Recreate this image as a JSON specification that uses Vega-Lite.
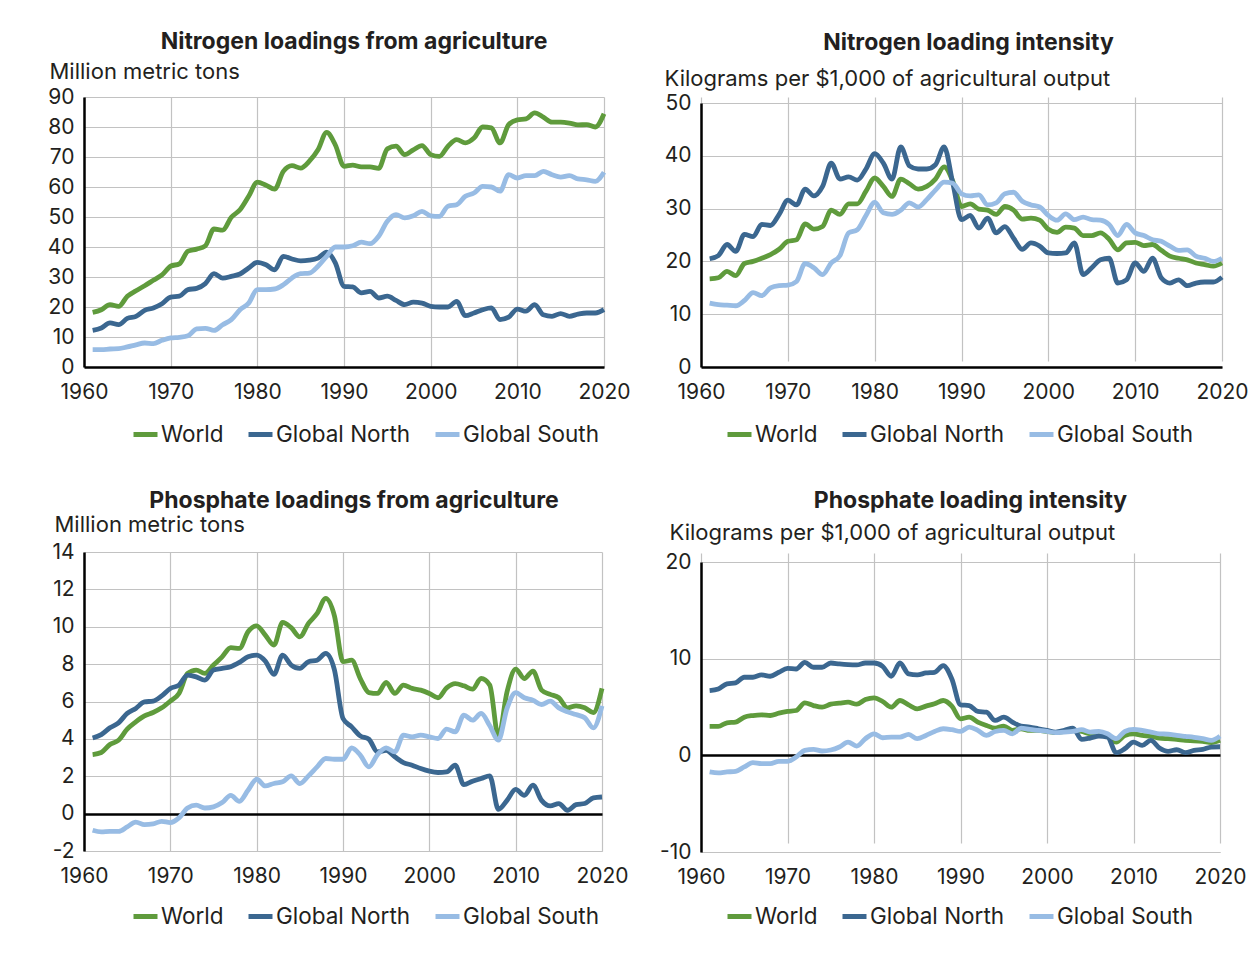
{
  "$schema": "https://vega.github.io/schema/vega-lite/v6.json",
  "background": "white",
  "padding": {"left": 47, "top": 31, "right": 0, "bottom": 0},
  "config": {
    "font": "Inter",
    "view": {"stroke": null},
    "title": {"font": "Inter", "fontSize": 23, "fontWeight": "bold", "color": "#231f20", "anchor": "middle", "frame": "group"},
    "axis": {"labelFont": "Inter", "labelFontSize": 21, "labelColor": "#231f20", "ticks": false, "grid": true, "gridColor": "#c2c2c2", "gridWidth": 1.2, "domainColor": "#000000", "domainWidth": 2.5, "titleFont": "Inter", "titleFontSize": 22, "titleFontWeight": "normal", "titleColor": "#231f20", "labelFlush": false, "labelOverlap": false},
    "axisY": {"titleAngle": 0, "titleAlign": "left", "titleBaseline": "alphabetic", "labelPadding": 10, "labelExpr": "replace(datum.label, '\u2212', '-')"},
    "axisX": {"labelPadding": 14},
    "legend": {"orient": "none", "direction": "horizontal", "labelFont": "Inter", "labelFontSize": 22.5, "labelColor": "#231f20", "symbolType": "stroke", "symbolStrokeWidth": 5, "symbolSize": 576, "labelOffset": 1, "columnPadding": 14}
  },
  "datasets": {
    "n1": [
      {"year":1961,"World":18.2,"Global North":12.2,"Global South":5.8},
      {"year":1962,"World":19.1,"Global North":13.0,"Global South":5.8},
      {"year":1963,"World":20.8,"Global North":14.7,"Global South":6.0},
      {"year":1964,"World":20.2,"Global North":14.1,"Global South":6.1},
      {"year":1965,"World":23.6,"Global North":16.2,"Global South":6.7},
      {"year":1966,"World":25.4,"Global North":16.9,"Global South":7.4},
      {"year":1967,"World":27.1,"Global North":18.9,"Global South":8.0},
      {"year":1968,"World":28.9,"Global North":19.7,"Global South":7.8},
      {"year":1969,"World":30.7,"Global North":21.1,"Global South":8.9},
      {"year":1970,"World":33.6,"Global North":23.3,"Global South":9.7},
      {"year":1971,"World":34.4,"Global North":23.6,"Global South":9.9},
      {"year":1972,"World":38.6,"Global North":25.8,"Global South":10.4},
      {"year":1973,"World":39.3,"Global North":26.2,"Global South":12.7},
      {"year":1974,"World":40.4,"Global North":27.8,"Global South":12.9},
      {"year":1975,"World":46.0,"Global North":31.1,"Global South":12.2},
      {"year":1976,"World":45.6,"Global North":29.6,"Global South":14.1},
      {"year":1977,"World":49.9,"Global North":30.2,"Global South":15.8},
      {"year":1978,"World":52.4,"Global North":31.0,"Global South":19.1},
      {"year":1979,"World":56.9,"Global North":33.0,"Global South":21.3},
      {"year":1980,"World":61.6,"Global North":34.9,"Global South":25.8},
      {"year":1981,"World":60.6,"Global North":34.1,"Global South":25.8},
      {"year":1982,"World":59.3,"Global North":32.4,"Global South":26.0},
      {"year":1983,"World":65.2,"Global North":36.9,"Global South":27.4},
      {"year":1984,"World":67.1,"Global North":36.0,"Global South":29.7},
      {"year":1985,"World":66.3,"Global North":35.4,"Global South":31.1},
      {"year":1986,"World":68.6,"Global North":35.6,"Global South":31.3},
      {"year":1987,"World":72.4,"Global North":36.3,"Global South":33.6},
      {"year":1988,"World":78.2,"Global North":38.3,"Global South":36.9},
      {"year":1989,"World":74.0,"Global North":34.7,"Global South":40.0},
      {"year":1990,"World":66.9,"Global North":26.9,"Global South":40.0},
      {"year":1991,"World":67.3,"Global North":26.7,"Global South":40.4},
      {"year":1992,"World":66.7,"Global North":24.7,"Global South":41.6},
      {"year":1993,"World":66.7,"Global North":25.2,"Global South":41.1},
      {"year":1994,"World":66.2,"Global North":23.0,"Global South":43.6},
      {"year":1995,"World":72.7,"Global North":23.6,"Global South":48.6},
      {"year":1996,"World":73.6,"Global North":22.2,"Global South":50.8},
      {"year":1997,"World":70.8,"Global North":20.8,"Global South":49.7},
      {"year":1998,"World":72.4,"Global North":21.6,"Global South":50.4},
      {"year":1999,"World":73.8,"Global North":21.3,"Global South":51.9},
      {"year":2000,"World":70.8,"Global North":20.2,"Global South":50.4},
      {"year":2001,"World":70.2,"Global North":20.0,"Global South":50.2},
      {"year":2002,"World":73.6,"Global North":20.0,"Global South":53.6},
      {"year":2003,"World":75.8,"Global North":21.9,"Global South":54.1},
      {"year":2004,"World":74.7,"Global North":17.1,"Global South":56.9},
      {"year":2005,"World":76.3,"Global North":18.0,"Global South":58.0},
      {"year":2006,"World":80.0,"Global North":19.1,"Global South":60.2},
      {"year":2007,"World":79.7,"Global North":19.7,"Global South":60.0},
      {"year":2008,"World":74.7,"Global North":15.8,"Global South":58.6},
      {"year":2009,"World":80.8,"Global North":16.6,"Global South":64.1},
      {"year":2010,"World":82.4,"Global North":19.3,"Global South":63.0},
      {"year":2011,"World":82.7,"Global North":18.6,"Global South":63.8},
      {"year":2012,"World":84.7,"Global North":20.8,"Global South":63.8},
      {"year":2013,"World":83.3,"Global North":17.4,"Global South":65.2},
      {"year":2014,"World":81.6,"Global North":16.9,"Global South":64.1},
      {"year":2015,"World":81.6,"Global North":17.8,"Global South":63.3},
      {"year":2016,"World":81.3,"Global North":16.9,"Global South":63.8},
      {"year":2017,"World":80.7,"Global North":17.6,"Global South":62.7},
      {"year":2018,"World":80.8,"Global North":18.0,"Global South":62.4},
      {"year":2019,"World":80.0,"Global North":18.0,"Global South":61.9},
      {"year":2020,"World":84.4,"Global North":19.1,"Global South":64.9}
    ],
    "n2": [
      {"year":1961,"World":16.7,"Global North":20.5,"Global South":12.1},
      {"year":1962,"World":16.9,"Global North":21.1,"Global South":11.8},
      {"year":1963,"World":18.1,"Global North":23.2,"Global South":11.7},
      {"year":1964,"World":17.3,"Global North":21.9,"Global South":11.6},
      {"year":1965,"World":19.6,"Global North":25.1,"Global South":12.6},
      {"year":1966,"World":20.0,"Global North":24.7,"Global South":14.1},
      {"year":1967,"World":20.6,"Global North":27.0,"Global South":13.5},
      {"year":1968,"World":21.3,"Global North":26.8,"Global South":15.0},
      {"year":1969,"World":22.3,"Global North":28.9,"Global South":15.4},
      {"year":1970,"World":23.8,"Global North":31.6,"Global South":15.5},
      {"year":1971,"World":24.1,"Global North":30.7,"Global South":16.2},
      {"year":1972,"World":27.1,"Global North":33.7,"Global South":19.6},
      {"year":1973,"World":26.1,"Global North":32.4,"Global South":18.8},
      {"year":1974,"World":26.6,"Global North":34.2,"Global South":17.5},
      {"year":1975,"World":29.7,"Global North":38.6,"Global South":19.7},
      {"year":1976,"World":28.9,"Global North":35.6,"Global South":21.1},
      {"year":1977,"World":30.9,"Global North":36.0,"Global South":25.4},
      {"year":1978,"World":30.9,"Global North":35.4,"Global South":26.0},
      {"year":1979,"World":33.3,"Global North":37.5,"Global South":28.7},
      {"year":1980,"World":35.8,"Global North":40.4,"Global South":31.2},
      {"year":1981,"World":34.2,"Global North":38.6,"Global South":29.2},
      {"year":1982,"World":32.3,"Global North":35.6,"Global South":28.9},
      {"year":1983,"World":35.6,"Global North":41.7,"Global South":29.7},
      {"year":1984,"World":34.7,"Global North":38.1,"Global South":31.1},
      {"year":1985,"World":33.7,"Global North":37.5,"Global South":30.3},
      {"year":1986,"World":34.2,"Global North":37.5,"Global South":31.7},
      {"year":1987,"World":35.6,"Global North":38.3,"Global South":33.5},
      {"year":1988,"World":37.9,"Global North":41.7,"Global South":35.0},
      {"year":1989,"World":35.2,"Global North":34.8,"Global South":34.8},
      {"year":1990,"World":30.4,"Global North":27.9,"Global South":32.8},
      {"year":1991,"World":30.9,"Global North":28.7,"Global South":32.4},
      {"year":1992,"World":29.9,"Global North":26.3,"Global South":32.6},
      {"year":1993,"World":29.7,"Global North":28.2,"Global South":30.7},
      {"year":1994,"World":28.9,"Global North":25.4,"Global South":31.1},
      {"year":1995,"World":30.4,"Global North":26.6,"Global South":32.8},
      {"year":1996,"World":29.7,"Global North":24.4,"Global South":33.1},
      {"year":1997,"World":28.0,"Global North":22.3,"Global South":31.4},
      {"year":1998,"World":28.2,"Global North":23.5,"Global South":30.7},
      {"year":1999,"World":27.8,"Global North":22.9,"Global South":30.3},
      {"year":2000,"World":26.1,"Global North":21.6,"Global South":28.7},
      {"year":2001,"World":25.5,"Global North":21.5,"Global South":27.8},
      {"year":2002,"World":26.5,"Global North":21.6,"Global South":29.0},
      {"year":2003,"World":26.3,"Global North":23.5,"Global South":27.9},
      {"year":2004,"World":24.9,"Global North":17.5,"Global South":28.4},
      {"year":2005,"World":24.9,"Global North":18.8,"Global South":27.9},
      {"year":2006,"World":25.4,"Global North":20.3,"Global South":27.8},
      {"year":2007,"World":24.2,"Global North":20.6,"Global South":27.0},
      {"year":2008,"World":22.2,"Global North":15.9,"Global South":24.9},
      {"year":2009,"World":23.5,"Global North":16.5,"Global South":27.0},
      {"year":2010,"World":23.6,"Global North":19.7,"Global South":25.4},
      {"year":2011,"World":23.0,"Global North":18.1,"Global South":24.9},
      {"year":2012,"World":23.2,"Global North":20.6,"Global South":24.1},
      {"year":2013,"World":22.1,"Global North":16.9,"Global South":23.8},
      {"year":2014,"World":21.0,"Global North":15.9,"Global South":22.9},
      {"year":2015,"World":20.6,"Global North":16.5,"Global South":22.1},
      {"year":2016,"World":20.3,"Global North":15.4,"Global South":22.2},
      {"year":2017,"World":19.7,"Global North":15.9,"Global South":21.0},
      {"year":2018,"World":19.4,"Global North":16.1,"Global South":20.6},
      {"year":2019,"World":19.1,"Global North":16.1,"Global South":20.0},
      {"year":2020,"World":19.7,"Global North":17.0,"Global South":20.6}
    ],
    "p1": [
      {"year":1961,"World":3.16,"Global North":4.05,"Global South":-0.89},
      {"year":1962,"World":3.27,"Global North":4.23,"Global South":-0.98},
      {"year":1963,"World":3.70,"Global North":4.59,"Global South":-0.95},
      {"year":1964,"World":3.93,"Global North":4.86,"Global South":-0.95},
      {"year":1965,"World":4.52,"Global North":5.36,"Global South":-0.71},
      {"year":1966,"World":4.91,"Global North":5.63,"Global South":-0.45},
      {"year":1967,"World":5.23,"Global North":5.98,"Global South":-0.59},
      {"year":1968,"World":5.41,"Global North":6.02,"Global South":-0.55},
      {"year":1969,"World":5.66,"Global North":6.30,"Global South":-0.41},
      {"year":1970,"World":6.02,"Global North":6.70,"Global South":-0.48},
      {"year":1971,"World":6.43,"Global North":6.88,"Global South":-0.23},
      {"year":1972,"World":7.50,"Global North":7.41,"Global South":0.30},
      {"year":1973,"World":7.68,"Global North":7.32,"Global South":0.45},
      {"year":1974,"World":7.50,"Global North":7.14,"Global South":0.30},
      {"year":1975,"World":7.95,"Global North":7.68,"Global South":0.36},
      {"year":1976,"World":8.39,"Global North":7.77,"Global South":0.59},
      {"year":1977,"World":8.88,"Global North":7.86,"Global South":0.98},
      {"year":1978,"World":8.84,"Global North":8.09,"Global South":0.66},
      {"year":1979,"World":9.73,"Global North":8.39,"Global South":1.25},
      {"year":1980,"World":10.05,"Global North":8.48,"Global South":1.84},
      {"year":1981,"World":9.55,"Global North":8.16,"Global South":1.48},
      {"year":1982,"World":9.02,"Global North":7.45,"Global South":1.61},
      {"year":1983,"World":10.23,"Global North":8.48,"Global South":1.70},
      {"year":1984,"World":9.95,"Global North":7.95,"Global South":2.02},
      {"year":1985,"World":9.46,"Global North":7.77,"Global South":1.61},
      {"year":1986,"World":10.18,"Global North":8.13,"Global South":2.02},
      {"year":1987,"World":10.71,"Global North":8.21,"Global South":2.50},
      {"year":1988,"World":11.52,"Global North":8.57,"Global South":2.95},
      {"year":1989,"World":10.6,"Global North":7.7,"Global South":2.91},
      {"year":1990,"World":8.13,"Global North":5.09,"Global South":2.91},
      {"year":1991,"World":8.21,"Global North":4.64,"Global South":3.52},
      {"year":1992,"World":7.23,"Global North":4.16,"Global South":3.13},
      {"year":1993,"World":6.48,"Global North":3.98,"Global South":2.50},
      {"year":1994,"World":6.43,"Global North":3.30,"Global South":3.16},
      {"year":1995,"World":7.02,"Global North":3.39,"Global South":3.52},
      {"year":1996,"World":6.43,"Global North":3.04,"Global South":3.30},
      {"year":1997,"World":6.88,"Global North":2.73,"Global South":4.20},
      {"year":1998,"World":6.70,"Global North":2.59,"Global South":4.11},
      {"year":1999,"World":6.61,"Global North":2.41,"Global South":4.20},
      {"year":2000,"World":6.43,"Global North":2.27,"Global South":4.11},
      {"year":2001,"World":6.20,"Global North":2.20,"Global South":4.02},
      {"year":2002,"World":6.73,"Global North":2.23,"Global South":4.52},
      {"year":2003,"World":6.96,"Global North":2.59,"Global South":4.38},
      {"year":2004,"World":6.84,"Global North":1.55,"Global South":5.27},
      {"year":2005,"World":6.66,"Global North":1.73,"Global South":5.00},
      {"year":2006,"World":7.23,"Global North":1.88,"Global South":5.36},
      {"year":2007,"World":6.88,"Global North":2.02,"Global South":4.70},
      {"year":2008,"World":4.11,"Global North":0.23,"Global South":3.93},
      {"year":2009,"World":6.52,"Global North":0.71,"Global South":5.63},
      {"year":2010,"World":7.73,"Global North":1.30,"Global South":6.48},
      {"year":2011,"World":7.23,"Global North":0.98,"Global South":6.20},
      {"year":2012,"World":7.63,"Global North":1.52,"Global South":6.07},
      {"year":2013,"World":6.61,"Global North":0.71,"Global South":5.84},
      {"year":2014,"World":6.38,"Global North":0.41,"Global South":6.02},
      {"year":2015,"World":6.20,"Global North":0.54,"Global South":5.66},
      {"year":2016,"World":5.66,"Global North":0.18,"Global South":5.45},
      {"year":2017,"World":5.77,"Global North":0.48,"Global South":5.30},
      {"year":2018,"World":5.66,"Global North":0.54,"Global South":5.13},
      {"year":2019,"World":5.41,"Global North":0.84,"Global South":4.59},
      {"year":2020,"World":6.70,"Global North":0.89,"Global South":5.77}
    ],
    "p2": [
      {"year":1961,"World":2.99,"Global North":6.70,"Global South":-1.72},
      {"year":1962,"World":2.99,"Global North":6.87,"Global South":-1.82},
      {"year":1963,"World":3.37,"Global North":7.39,"Global South":-1.72},
      {"year":1964,"World":3.44,"Global North":7.49,"Global South":-1.65},
      {"year":1965,"World":3.95,"Global North":8.08,"Global South":-1.20},
      {"year":1966,"World":4.12,"Global North":8.08,"Global South":-0.76},
      {"year":1967,"World":4.19,"Global North":8.32,"Global South":-0.86},
      {"year":1968,"World":4.12,"Global North":8.18,"Global South":-0.86},
      {"year":1969,"World":4.36,"Global North":8.59,"Global South":-0.62},
      {"year":1970,"World":4.54,"Global North":9.00,"Global South":-0.62},
      {"year":1971,"World":4.64,"Global North":8.93,"Global South":-0.17},
      {"year":1972,"World":5.43,"Global North":9.62,"Global South":0.52},
      {"year":1973,"World":5.15,"Global North":9.11,"Global South":0.62},
      {"year":1974,"World":4.98,"Global North":9.11,"Global South":0.45},
      {"year":1975,"World":5.29,"Global North":9.55,"Global South":0.55},
      {"year":1976,"World":5.40,"Global North":9.45,"Global South":0.86},
      {"year":1977,"World":5.50,"Global North":9.38,"Global South":1.37},
      {"year":1978,"World":5.29,"Global North":9.35,"Global South":0.96},
      {"year":1979,"World":5.77,"Global North":9.55,"Global South":1.72},
      {"year":1980,"World":5.95,"Global North":9.55,"Global South":2.23},
      {"year":1981,"World":5.57,"Global North":9.21,"Global South":1.82},
      {"year":1982,"World":4.98,"Global North":8.18,"Global South":1.89},
      {"year":1983,"World":5.67,"Global North":9.55,"Global South":1.89},
      {"year":1984,"World":5.22,"Global North":8.42,"Global South":2.16},
      {"year":1985,"World":4.81,"Global North":8.32,"Global South":1.72},
      {"year":1986,"World":5.09,"Global North":8.52,"Global South":2.06},
      {"year":1987,"World":5.33,"Global North":8.59,"Global South":2.47},
      {"year":1988,"World":5.67,"Global North":9.28,"Global South":2.75},
      {"year":1989,"World":5.09,"Global North":7.90,"Global South":2.65},
      {"year":1990,"World":3.78,"Global North":5.22,"Global South":2.47},
      {"year":1991,"World":3.95,"Global North":5.15,"Global South":2.92},
      {"year":1992,"World":3.44,"Global North":4.54,"Global South":2.58},
      {"year":1993,"World":3.09,"Global North":4.47,"Global South":2.06},
      {"year":1994,"World":2.82,"Global North":3.61,"Global South":2.47},
      {"year":1995,"World":3.02,"Global North":3.95,"Global South":2.58},
      {"year":1996,"World":2.58,"Global North":3.44,"Global South":2.23},
      {"year":1997,"World":2.75,"Global North":3.02,"Global South":2.82},
      {"year":1998,"World":2.58,"Global North":2.92,"Global South":2.68},
      {"year":1999,"World":2.58,"Global North":2.75,"Global South":2.58},
      {"year":2000,"World":2.47,"Global North":2.58,"Global South":2.47},
      {"year":2001,"World":2.34,"Global North":2.41,"Global South":2.34},
      {"year":2002,"World":2.47,"Global North":2.58,"Global South":2.41},
      {"year":2003,"World":2.58,"Global North":2.82,"Global South":2.47},
      {"year":2004,"World":2.47,"Global North":1.65,"Global South":2.65},
      {"year":2005,"World":2.23,"Global North":1.79,"Global South":2.41},
      {"year":2006,"World":2.23,"Global North":1.99,"Global South":2.47},
      {"year":2007,"World":1.99,"Global North":1.89,"Global South":2.23},
      {"year":2008,"World":1.37,"Global North":0.27,"Global South":1.72},
      {"year":2009,"World":2.06,"Global North":0.69,"Global South":2.47},
      {"year":2010,"World":2.23,"Global North":1.37,"Global South":2.68},
      {"year":2011,"World":2.06,"Global North":1.03,"Global South":2.58},
      {"year":2012,"World":1.99,"Global North":1.55,"Global South":2.41},
      {"year":2013,"World":1.79,"Global North":0.76,"Global South":2.23},
      {"year":2014,"World":1.72,"Global North":0.41,"Global South":2.20},
      {"year":2015,"World":1.65,"Global North":0.58,"Global South":2.06},
      {"year":2016,"World":1.55,"Global North":0.27,"Global South":1.96},
      {"year":2017,"World":1.51,"Global North":0.52,"Global South":1.86},
      {"year":2018,"World":1.44,"Global North":0.62,"Global South":1.72},
      {"year":2019,"World":1.31,"Global North":0.86,"Global South":1.55},
      {"year":2020,"World":1.55,"Global North":0.89,"Global South":1.99}
    ]
  },
  "spacing": 28,
  "resolve": {"scale": {"color": "independent"}, "legend": {"color": "independent"}},
  "hconcat": [
    {
      "spacing": 44,
      "resolve": {"scale": {"color": "independent"}, "legend": {"color": "independent"}},
      "vconcat": [
        {
          "width": 520, "height": 270,
          "title": {"text": "Nitrogen loadings from agriculture", "dx": 10, "offset": 6},
          "data": {"name": "n1"},
          "transform": [{"fold": ["World", "Global North", "Global South"], "as": ["region", "value"]}],
          "mark": {"type": "line", "strokeWidth": 4.8, "interpolate": "monotone"},
          "encoding": {
            "x": {"field": "year", "type": "quantitative", "scale": {"domain": [1960, 2020], "nice": false, "zero": false}, "axis": {"values": [1960, 1970, 1980, 1990, 2000, 2010, 2020], "format": "d", "title": null}},
            "y": {"field": "value", "type": "quantitative", "scale": {"domain": [0, 90], "nice": false}, "axis": {"values": [0, 10, 20, 30, 40, 50, 60, 70, 80, 90], "title": "Million metric tons", "titleX": -35, "titleY": -19}},
            "color": {"field": "region", "type": "nominal", "scale": {"domain": ["World", "Global North", "Global South"], "range": ["#5f9b3c", "#3b6790", "#98bce4"]}, "legend": {"title": null, "legendX": 47, "legendY": 323}}
          }
        },
        {
          "width": 518, "height": 299,
          "title": {"text": "Phosphate loadings from agriculture", "dx": 11, "offset": 0},
          "data": {"name": "p1"},
          "transform": [{"fold": ["World", "Global North", "Global South"], "as": ["region", "value"]}],
          "mark": {"type": "line", "strokeWidth": 4.8, "interpolate": "monotone"},
          "encoding": {
            "x": {"field": "year", "type": "quantitative", "scale": {"domain": [1960, 2020], "nice": false, "zero": false}, "axis": {"values": [1960, 1970, 1980, 1990, 2000, 2010, 2020], "format": "d", "title": null, "domainColor": "#c2c2c2", "domainWidth": 1.2}},
            "y": {"field": "value", "type": "quantitative", "scale": {"domain": [-2, 14], "nice": false}, "axis": {"values": [-2, 0, 2, 4, 6, 8, 10, 12, 14], "title": "Million metric tons", "titleX": -30, "titleY": -21, "gridColor": {"condition": {"test": "datum.value === 0", "value": "#000000"}, "value": "#c2c2c2"}, "gridWidth": {"condition": {"test": "datum.value === 0", "value": 2.5}, "value": 1.2}}},
            "color": {"field": "region", "type": "nominal", "scale": {"domain": ["World", "Global North", "Global South"], "range": ["#5f9b3c", "#3b6790", "#98bce4"]}, "legend": {"title": null, "legendX": 47, "legendY": 350}}
          }
        }
      ]
    },
    {
      "spacing": 44,
      "resolve": {"scale": {"color": "independent"}, "legend": {"color": "independent"}},
      "vconcat": [
        {
          "width": 521, "height": 270,
          "title": {"text": "Nitrogen loading intensity", "dx": 7, "offset": 12},
          "data": {"name": "n2"},
          "transform": [{"fold": ["World", "Global North", "Global South"], "as": ["region", "value"]}],
          "mark": {"type": "line", "strokeWidth": 4.8, "interpolate": "monotone"},
          "encoding": {
            "x": {"field": "year", "type": "quantitative", "scale": {"domain": [1960, 2020], "nice": false, "zero": false}, "axis": {"values": [1960, 1970, 1980, 1990, 2000, 2010, 2020], "format": "d", "title": null}},
            "y": {"field": "value", "type": "quantitative", "scale": {"domain": [0, 50], "nice": false, "range": [270, 6]}, "axis": {"values": [0, 10, 20, 30, 40, 50], "title": "Kilograms per $1,000 of agricultural output", "titleX": -37, "titleY": -12}},
            "color": {"field": "region", "type": "nominal", "scale": {"domain": ["World", "Global North", "Global South"], "range": ["#5f9b3c", "#3b6790", "#98bce4"]}, "legend": {"title": null, "legendX": 24, "legendY": 323}}
          }
        },
        {
          "width": 519, "height": 299,
          "title": {"text": "Phosphate loading intensity", "dx": 10, "offset": 8},
          "data": {"name": "p2"},
          "transform": [{"fold": ["World", "Global North", "Global South"], "as": ["region", "value"]}],
          "mark": {"type": "line", "strokeWidth": 4.8, "interpolate": "monotone"},
          "encoding": {
            "x": {"field": "year", "type": "quantitative", "scale": {"domain": [1960, 2020], "nice": false, "zero": false}, "axis": {"values": [1960, 1970, 1980, 1990, 2000, 2010, 2020], "format": "d", "title": null, "domainColor": "#c2c2c2", "domainWidth": 1.2}},
            "y": {"field": "value", "type": "quantitative", "scale": {"domain": [-10, 20], "nice": false, "range": [299, 9]}, "axis": {"values": [-10, 0, 10, 20], "title": "Kilograms per $1,000 of agricultural output", "titleX": -32, "titleY": -14, "gridColor": {"condition": {"test": "datum.value === 0", "value": "#000000"}, "value": "#c2c2c2"}, "gridWidth": {"condition": {"test": "datum.value === 0", "value": 2.5}, "value": 1.2}}},
            "color": {"field": "region", "type": "nominal", "scale": {"domain": ["World", "Global North", "Global South"], "range": ["#5f9b3c", "#3b6790", "#98bce4"]}, "legend": {"title": null, "legendX": 24, "legendY": 349}}
          }
        }
      ]
    }
  ]
}
